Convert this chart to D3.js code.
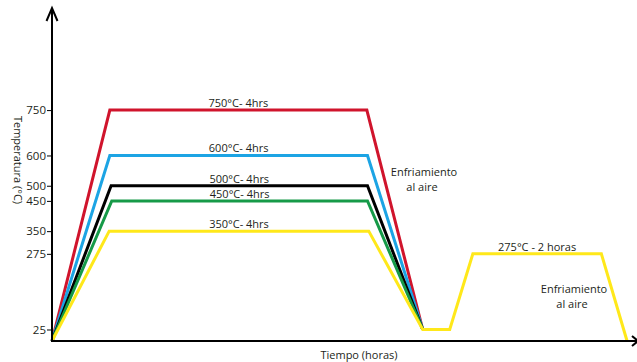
<!DOCTYPE html>
<html>
<head>
<meta charset="utf-8">
<script src="https://cdn.jsdelivr.net/npm/d3@7"></script>
<style>
  html, body { margin: 0; padding: 0; background: #fff; }
  svg { display: block; font-family: "Open Sans", sans-serif; }
</style>
</head>
<body>
<svg id="chart" width="637" height="362"></svg>
<script>
// ---- data ----
const labels = ["750°C- 4hrs", "600°C- 4hrs", "500°C- 4hrs", "450°C- 4hrs", "350°C- 4hrs"];
const soakTemps = [750, 600, 500, 450, 350];
const heatEndTimes = [0.9, 0.9, 0.92, 0.93, 0.89];      // hours
const soakEndTimes = [4.9, 4.91, 4.91, 4.91, 4.93];     // hours
const coolEndTime = 5.77;
const roomTemp = 25;
const originTemp = -13;            // value at the time axis
const temperTimes = [5.77, 6.19, 6.55, 8.55, 8.95];
const temperTemps = [25, 25, 275, 275, -13];
const temperLabel = "275°C - 2 horas";
const tickValues = [25, 275, 350, 450, 500, 600, 750];
const coolLabel = ["Enfriamiento", "al aire"];

// ---- styles ----
const colors = ["#d0142c", "#1ca4e4", "#000000", "#169a48", "#ffe81a"];
const textColor = "#231f20";

const svg = d3.select("#chart");
const x = d3.scaleLinear().domain([0, 9.1]).range([52, 636.7]);
const y = d3.scaleLinear().domain([originTemp, 1085]).range([341, 8.7]);

const line = d3.line().x(d => x(d[0])).y(d => y(d[1]));

// series polylines
const seriesData = soakTemps.map((T, i) => [
  [0, originTemp], [heatEndTimes[i], T], [soakEndTimes[i], T], [coolEndTime, roomTemp]
]);
// yellow (350) continues with tempering cycle
const yellowFull = seriesData[4].concat(temperTimes.slice(1).map((t, i) => [t, temperTemps[i + 1]]));

seriesData.forEach((d, i) => {
  svg.append("path")
    .attr("d", line(i === 4 ? yellowFull : d))
    .attr("fill", "none")
    .attr("stroke", colors[i])
    .attr("stroke-width", 3)
    .attr("stroke-linejoin", "miter");
});

// plateau labels
soakTemps.forEach((T, i) => {
  svg.append("text")
    .attr("x", x((heatEndTimes[i] + soakEndTimes[i]) / 2))
    .attr("y", y(T) - 3)
    .attr("text-anchor", "middle")
    .attr("font-size", 11)
    .attr("fill", textColor)
    .text(labels[i]);
});
svg.append("text")
  .attr("x", x((temperTimes[2] + temperTimes[3]) / 2))
  .attr("y", y(temperTemps[2]) - 3)
  .attr("text-anchor", "middle")
  .attr("font-size", 11)
  .attr("fill", textColor)
  .text(temperLabel);

// cooling annotations
[[424, 176], [574, 293]].forEach(p => {
  const t = svg.append("text")
    .attr("text-anchor", "middle")
    .attr("font-size", 11)
    .attr("fill", textColor);
  t.append("tspan").attr("x", p[0]).attr("y", p[1]).text(coolLabel[0]);
  t.append("tspan").attr("x", p[0] - 2).attr("y", p[1] + 14.5).text(coolLabel[1]);
});

// y axis ticks
const yAxis = d3.axisLeft(y).tickValues(tickValues).tickSize(5).tickPadding(1);
const gy = svg.append("g").attr("transform", `translate(${x(0)},0)`).call(yAxis);
gy.select(".domain").remove();
gy.selectAll(".tick line").attr("stroke", "#000").attr("stroke-width", 1);
gy.selectAll(".tick text")
  .attr("font-size", 11.5)
  .attr("font-family", "Open Sans, sans-serif")
  .attr("fill", textColor);

// axis lines with arrows
const axisColor = "#000";
svg.append("line").attr("x1", x(0)).attr("y1", y(originTemp) + 1).attr("x2", x(0)).attr("y2", 8)
  .attr("stroke", axisColor).attr("stroke-width", 2);
svg.append("path").attr("d", `M${x(0) - 5.5},21 L${x(0)},8 L${x(0) + 5.5},21`)
  .attr("fill", "none").attr("stroke", axisColor).attr("stroke-width", 2);
svg.append("line").attr("x1", x(0) - 1).attr("y1", y(originTemp)).attr("x2", 637).attr("y2", y(originTemp))
  .attr("stroke", axisColor).attr("stroke-width", 2);
svg.append("path").attr("d", `M632,${y(originTemp) - 5} L638,${y(originTemp)} L632,${y(originTemp) + 5}`)
  .attr("fill", "none").attr("stroke", axisColor).attr("stroke-width", 2);

// axis titles
svg.append("text")
  .attr("x", 359).attr("y", 359)
  .attr("text-anchor", "middle")
  .attr("font-size", 11)
  .attr("fill", textColor)
  .text("Tiempo (horas)");
svg.append("text")
  .attr("transform", "translate(14,160) rotate(90)")
  .attr("text-anchor", "middle")
  .attr("font-size", 11)
  .attr("fill", textColor)
  .text("Temperatura (°C)");
</script>
</body>
</html>
